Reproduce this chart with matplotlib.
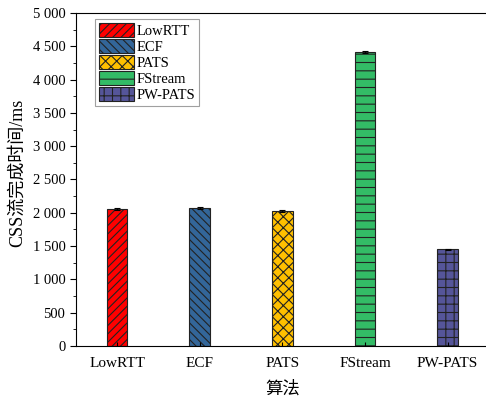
import matplotlib
matplotlib.use("Agg")
import matplotlib.pyplot as plt
from matplotlib.ticker import MultipleLocator, FuncFormatter

plt.rcParams['font.family'] = ['Liberation Serif', 'Noto Sans CJK SC']
plt.rcParams['hatch.linewidth'] = 0.8

categories = ["LowRTT", "ECF", "PATS", "FStream", "PW-PATS"]
values = [2050, 2070, 2030, 4410, 1450]
errors = [15, 20, 15, 15, 12]
colors = ["#FF0000", "#336699", "#FFC000", "#33BB66", "#555599"]
hatches = ["////", "\\\\\\\\", "xxx", "--", "++"]
yticks = [0, 500, 1000, 1500, 2000, 2500, 3000, 3500, 4000, 4500, 5000]

fig = plt.figure(figsize=(4.86, 4.0), dpi=100)
ax = fig.add_axes([0.156, 0.135, 0.85, 0.8325])

x = list(range(len(categories)))
for i, (c, v, e, col, h) in enumerate(zip(categories, values, errors, colors, hatches)):
    ax.bar(i, v, width=0.25, color=col, edgecolor="#222222", hatch=h,
           linewidth=0.8, label=c, yerr=e, capsize=2,
           error_kw=dict(ecolor="black", elinewidth=0.8, capthick=0.8))

ax.set_xlim(-0.5, 4.5)
ax.set_ylim(0, 5000)
ax.set_xticks(x)
ax.set_xticklabels(categories, fontsize=11)
ax.set_yticks(yticks)
ax.yaxis.set_minor_locator(MultipleLocator(250))
ax.yaxis.set_major_formatter(FuncFormatter(lambda v, p: f"{int(v):,}".replace(",", " ")))
ax.tick_params(axis='y', labelsize=10.5, direction='out', length=4)
ax.tick_params(axis='y', which='minor', direction='out', length=2.5)
ax.tick_params(axis='x', direction='in', length=3, pad=8)
ax.spines['right'].set_visible(False)

ax.set_ylabel("CSS流完成时间/ms", fontsize=13)
ax.yaxis.set_label_coords(-0.12, 0.52)
ax.set_xlabel("算法", fontsize=12.5, labelpad=8)

leg = ax.legend(loc="upper left", bbox_to_anchor=(0.04, 0.99), fontsize=10.5,
                frameon=True, fancybox=False, edgecolor="#888888",
                handlelength=2.4, handleheight=1.1, labelspacing=0.08,
                handletextpad=0.2, borderpad=0.25, borderaxespad=0.2)
leg.get_frame().set_linewidth(0.8)

fig.savefig("out.png", dpi=100)
